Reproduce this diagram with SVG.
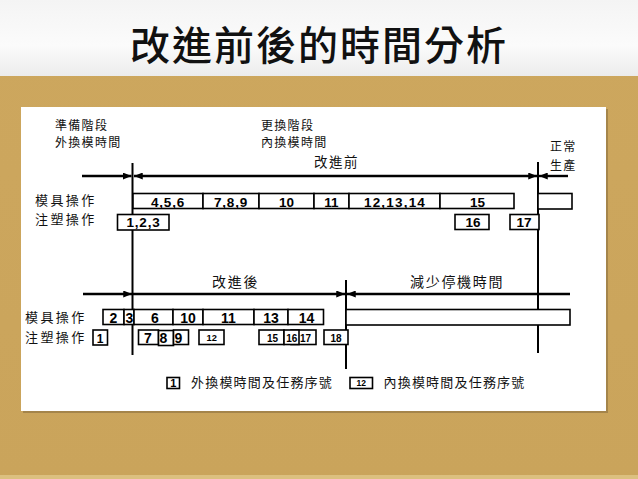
<svg xmlns="http://www.w3.org/2000/svg" width="638" height="479" viewBox="0 0 638 479">
<defs>
<linearGradient id="top" x1="0" y1="0" x2="0" y2="1">
<stop offset="0" stop-color="#f4f4f4"/><stop offset="0.6" stop-color="#fbfbfb"/><stop offset="1" stop-color="#ececec"/>
</linearGradient>
<linearGradient id="gold" x1="0" y1="0" x2="0" y2="1">
<stop offset="0" stop-color="#b8944c"/><stop offset="0.04" stop-color="#cda75e"/><stop offset="1" stop-color="#caa45b"/>
</linearGradient>
<marker id="ah" viewBox="0 0 10 8" refX="10" refY="4" markerWidth="9" markerHeight="7" markerUnits="userSpaceOnUse" orient="auto-start-reverse">
<path d="M0,0 L10,4 L0,8 z" fill="#000"/>
</marker>
<style>
.cjk{font-family:"Noto Sans CJK TC","Noto Sans CJK SC",sans-serif;fill:#111;}
.lab{font-size:13px;letter-spacing:2.4px;}
.sm{font-size:12px;letter-spacing:1.3px;}
.num{font-family:"Liberation Sans",Arial,sans-serif;font-weight:bold;fill:#000;text-anchor:middle;}
.box{fill:#fff;stroke:#000;stroke-width:1.6;}
.ln{stroke:#000;stroke-width:2;fill:none;}
.ar{stroke:#000;stroke-width:2.4;fill:none;}
</style>
</defs>
<rect x="0" y="0" width="638" height="479" fill="url(#gold)"/>
<rect x="0" y="0" width="638" height="76" fill="url(#top)"/>
<rect x="0" y="475" width="638" height="4" fill="#dcc07f"/>
<rect x="23" y="109" width="585" height="304" fill="#8a7040" opacity="0.6"/>
<rect x="21" y="107" width="585" height="304" fill="#fff"/>
<text x="319" y="60" text-anchor="middle" class="cjk" style="font-size:40px;letter-spacing:2px;font-weight:500">改進前後的時間分析</text>

<g id="labels">
<text class="cjk sm" x="55" y="130">準備階段</text>
<text class="cjk sm" x="55" y="146.5">外換模時間</text>
<text class="cjk sm" x="261" y="130">更換階段</text>
<text class="cjk sm" x="261" y="146.5">內換模時間</text>
<text class="cjk lab" x="314" y="167" style="font-size:13.5px;letter-spacing:1.5px">改進前</text>
<text class="cjk sm" x="550" y="150.5">正常</text>
<text class="cjk sm" x="550" y="169.5">生產</text>
<text class="cjk lab" x="35" y="205">模具操作</text>
<text class="cjk lab" x="35" y="224.2">注塑操作</text>
<text class="cjk lab" x="212" y="287" style="font-size:14px;letter-spacing:1.7px">改進後</text>
<text class="cjk lab" x="410" y="287" style="font-size:14px;letter-spacing:1.7px">減少停機時間</text>
<text class="cjk lab" x="25" y="322">模具操作</text>
<text class="cjk lab" x="25" y="341.5">注塑操作</text>
</g>

<g id="connectors">
<line class="ln" x1="132.5" y1="163" x2="132.5" y2="355"/>
<line class="ln" x1="538" y1="162" x2="538" y2="353"/>
<line class="ln" x1="346" y1="280" x2="346" y2="369"/>
<line class="ar" x1="82" y1="176" x2="131.5" y2="176" marker-end="url(#ah)"/>
<line class="ar" x1="134" y1="176" x2="537" y2="176" marker-start="url(#ah)" marker-end="url(#ah)"/>
<line class="ar" x1="568" y1="176" x2="539" y2="176" marker-end="url(#ah)"/>
<line class="ar" x1="83" y1="294" x2="132" y2="294" marker-end="url(#ah)"/>
<line class="ar" x1="132" y1="294" x2="345" y2="294" marker-end="url(#ah)"/>
<line class="ar" x1="570" y1="294" x2="347" y2="294" marker-end="url(#ah)"/>
</g>

<g id="before-mold">
<rect class="box" x="133" y="193.5" width="70" height="15"/>
<rect class="box" x="203" y="193.5" width="56" height="15"/>
<rect class="box" x="259" y="193.5" width="55" height="15"/>
<rect class="box" x="314" y="193.5" width="35" height="15"/>
<rect class="box" x="349" y="193.5" width="91" height="15"/>
<rect class="box" x="440" y="193.5" width="74" height="15"/>
<rect class="box" x="538" y="193.5" width="34" height="15.5"/>
<g style="font-size:13.5px">
<text class="num" x="168" y="207" style="letter-spacing:0.8px">4,5,6</text>
<text class="num" x="231" y="207" style="letter-spacing:0.8px">7,8,9</text>
<text class="num" x="286.5" y="207">10</text>
<text class="num" x="331.5" y="207">11</text>
<text class="num" x="395" y="207" style="letter-spacing:1.2px">12,13,14</text>
<text class="num" x="477.5" y="207">15</text>
</g>
</g>

<g id="before-inject">
<rect class="box" x="117.5" y="214.5" width="51.5" height="15.5"/>
<rect class="box" x="455" y="214.5" width="34" height="15"/>
<rect class="box" x="510" y="214.5" width="29" height="15"/>
<g style="font-size:13.5px">
<text class="num" x="143.5" y="226.8" style="letter-spacing:0.8px">1,2,3</text>
<text class="num" x="473" y="227.3">16</text>
<text class="num" x="524" y="227.3">17</text>
</g>
</g>

<g id="after-mold">
<rect class="box" x="103" y="309.5" width="21" height="15"/>
<rect class="box" x="124" y="309.5" width="10" height="15"/>
<rect class="box" x="134" y="309.5" width="39" height="15"/>
<rect class="box" x="173" y="309.5" width="30" height="15"/>
<rect class="box" x="203" y="309.5" width="51" height="15"/>
<rect class="box" x="254" y="309.5" width="34" height="15"/>
<rect class="box" x="288" y="309.5" width="35.5" height="15"/>
<rect class="box" x="346" y="309.5" width="224" height="15.5"/>
<g style="font-size:14px">
<text class="num" x="113.5" y="323.3">2</text>
<text class="num" x="129.3" y="323.3">3</text>
<text class="num" x="155" y="323.3">6</text>
<text class="num" x="188" y="323.3">10</text>
<text class="num" x="228.5" y="323.3">11</text>
<text class="num" x="271" y="323.3">13</text>
<text class="num" x="306.5" y="323.3">14</text>
</g>
</g>

<g id="after-inject">
<rect class="box" x="93" y="330" width="14.5" height="15"/>
<text class="num" x="100" y="342.7" style="font-size:12px">1</text>
<rect class="box" x="138.5" y="330" width="20" height="14.5"/>
<rect class="box" x="158.5" y="330.5" width="15" height="15"/>
<rect class="box" x="173.5" y="330" width="15" height="14.5"/>
<g style="font-size:14px">
<text class="num" x="147.8" y="343.3">7</text>
<text class="num" x="163.5" y="343.3">8</text>
<text class="num" x="178.3" y="343.3">9</text>
</g>
<rect class="box" x="199" y="330" width="25" height="14.5"/>
<text class="num" x="211.7" y="340.8" style="font-size:9.3px">12</text>
<rect class="box" x="259" y="330" width="25" height="14.5"/>
<text class="num" x="272.5" y="341.7" style="font-size:10px">15</text>
<rect class="box" x="291" y="330" width="25" height="14.5"/>
<text class="num" x="305.5" y="341.7" style="font-size:10px">17</text>
<rect class="box" x="284" y="330" width="15" height="14.5"/>
<text class="num" x="291.8" y="341.7" style="font-size:10px">16</text>
<rect class="box" x="324" y="330" width="24" height="14.5"/>
<text class="num" x="336" y="341.7" style="font-size:10px">18</text>
</g>

<g id="legend">
<rect class="box" x="167" y="377.5" width="12.5" height="11"/>
<text class="num" x="173.2" y="387" style="font-size:11px">1</text>
<text class="cjk" x="191" y="387" style="font-size:13px;letter-spacing:1.2px">外換模時間及任務序號</text>
<rect class="box" x="350" y="377.5" width="22.5" height="11"/>
<text class="num" x="361.3" y="386.2" style="font-size:8.5px">12</text>
<text class="cjk" x="383.5" y="387" style="font-size:13px;letter-spacing:1.2px">內換模時間及任務序號</text>
</g>
</svg>
